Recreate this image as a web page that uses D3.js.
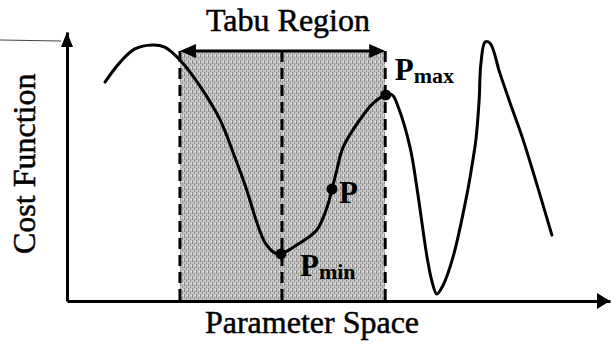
<!DOCTYPE html>
<html>
<head>
<meta charset="utf-8">
<script src="https://cdn.jsdelivr.net/npm/d3@7"></script>
<style>
  html, body { margin: 0; padding: 0; background: #fff; }
  text { font-family: "Liberation Serif", "Times New Roman", serif; fill: #000; }
</style>
</head>
<body>
<div id="chart"></div>
<script>
// cost function curve (x = parameter, y = cost, both 0..100)
const paramX = [7.0, 9.8, 12.5, 15.7, 18.0, 20.8, 24.5, 28.2, 30.9, 33.1, 35.0, 36.5, 38.3, 39.4,
  42.9, 46.0, 47.9, 48.8, 49.7, 50.8, 53.9, 56.4, 58.7, 59.9, 61.0, 63.2, 64.5, 66.3, 67.2, 68.1,
  69.2, 71.1, 73.7, 74.6, 75.3, 75.9, 76.2, 77.0, 77.9, 79.7, 81.6, 84.0, 89.3];
const costY = [81.4, 88.8, 93.7, 95.2, 94.4, 89.6, 79.9, 67.3, 53.5, 41.3, 29.0, 21.6, 17.8, 17.5,
  21.6, 26.4, 34.9, 41.6, 48.7, 56.9, 67.3, 73.6, 76.6, 76.6, 72.1, 56.9, 41.3, 16.4, 7.4, 2.6,
  5.6, 16.4, 40.1, 50.6, 59.9, 74.7, 87.7, 96.3, 95.9, 84.8, 73.6, 59.9, 24.5];

// tabu region and marked points
const tabuStart = 20.8, tabuCenter = 39.6, tabuEnd = 58.6, tabuTop = 92.9;
const markedNames = ["min", "", "max"];
const markedIdx = [13, 17, 22];

const width = 611, height = 347;
const svg = d3.select("#chart").append("svg")
  .attr("width", width).attr("height", height);

const x = d3.scaleLinear().domain([0, 100]).range([67, 610]);
const y = d3.scaleLinear().domain([0, 100]).range([301, 32]);

// texture for the shaded region
const defs = svg.append("defs");
const pat = defs.append("pattern").attr("id", "grain")
  .attr("patternUnits", "userSpaceOnUse").attr("width", 4).attr("height", 6);
pat.append("rect").attr("width", 4).attr("height", 6).attr("fill", "#c4c4c4");
pat.append("rect").attr("x", 0).attr("y", 0).attr("width", 1).attr("height", 4).attr("fill", "#8a8a8a");
pat.append("rect").attr("x", 2).attr("y", 3).attr("width", 1).attr("height", 3).attr("fill", "#9a9a9a");
pat.append("rect").attr("x", 3).attr("y", 1).attr("width", 1).attr("height", 1).attr("fill", "#eee");

svg.append("rect")
  .attr("x", x(tabuStart)).attr("y", y(tabuTop))
  .attr("width", x(tabuEnd) - x(tabuStart)).attr("height", y(0) - y(tabuTop))
  .attr("fill", "url(#grain)");

// dashed boundaries
svg.selectAll("line.bound")
  .data([tabuStart, tabuCenter, tabuEnd])
  .join("line")
  .attr("class", "bound")
  .attr("x1", d => x(d)).attr("x2", d => x(d))
  .attr("y1", y(tabuTop)).attr("y2", y(0))
  .attr("stroke", "#000").attr("stroke-width", 3)
  .attr("stroke-dasharray", "11 6");

// double arrow on top
const ty = y(tabuTop);
svg.append("line")
  .attr("x1", x(tabuStart) + 8).attr("x2", x(tabuEnd) - 8)
  .attr("y1", ty).attr("y2", ty)
  .attr("stroke", "#000").attr("stroke-width", 3);
svg.append("path")
  .attr("d", `M${x(tabuStart)},${ty} l16,-7 v14 Z M${x(tabuEnd)},${ty} l-16,-7 v14 Z`)
  .attr("fill", "#000");

svg.append("text")
  .attr("x", x(tabuCenter) + 6).attr("y", 31)
  .attr("text-anchor", "middle")
  .attr("font-size", 32)
  .attr("stroke", "#000").attr("stroke-width", 0.5)
  .text("Tabu Region");

// axes
svg.append("g").attr("transform", `translate(0,${y(0)})`)
  .call(d3.axisBottom(x).ticks(0).tickSizeOuter(0));
svg.append("g").attr("transform", `translate(${x(0)},0)`)
  .call(d3.axisLeft(y).ticks(0).tickSizeOuter(0));
svg.selectAll(".domain").attr("stroke", "#000").attr("stroke-width", 3);

svg.append("path")
  .attr("d", `M${x(100)},${y(0)} l-13,-8 v16 Z`)
  .attr("fill", "#000");
svg.append("path")
  .attr("d", `M${x(0)},${y(100)} l-6,15 h12 Z`)
  .attr("fill", "#000");

// scanning stray line at the top left
svg.append("line")
  .attr("x1", 0).attr("x2", x(0) - 6).attr("y1", 40).attr("y2", 41)
  .attr("stroke", "#444").attr("stroke-width", 1);

svg.append("text")
  .attr("x", 312).attr("y", 333)
  .attr("text-anchor", "middle")
  .attr("font-size", 32)
  .attr("stroke", "#000").attr("stroke-width", 0.5)
  .text("Parameter Space");

svg.append("text")
  .attr("transform", `translate(35,${y(51)}) rotate(-90)`)
  .attr("text-anchor", "middle")
  .attr("font-size", 32)
  .attr("stroke", "#000").attr("stroke-width", 0.5)
  .text("Cost Function");

// curve
const pts = paramX.map((d, i) => ({x: d, y: costY[i]}));
const line = d3.line()
  .x(d => x(d.x))
  .y(d => y(d.y))
  .curve(d3.curveCatmullRom.alpha(0.5));

svg.append("path")
  .datum(pts)
  .attr("d", line)
  .attr("fill", "none")
  .attr("stroke", "#000")
  .attr("stroke-width", 3)
  .attr("stroke-linecap", "round");

// marked points
const marks = markedIdx.map((k, i) => ({x: paramX[k], y: costY[k], sub: markedNames[i]}));
svg.selectAll("circle.mark")
  .data(marks)
  .join("circle")
  .attr("class", "mark")
  .attr("cx", d => x(d.x)).attr("cy", d => y(d.y))
  .attr("r", 5.5).attr("fill", "#000");

const labelOffset = [[19, 22], [7, 14], [9, -15]];
const lab = svg.selectAll("text.mark")
  .data(marks)
  .join("text")
  .attr("class", "mark")
  .attr("x", (d, i) => x(d.x) + labelOffset[i][0])
  .attr("y", (d, i) => y(d.y) + labelOffset[i][1])
  .attr("font-size", 31)
  .attr("font-weight", "bold");
lab.append("tspan").text("P");
lab.append("tspan")
  .attr("font-size", 22)
  .attr("dy", 3)
  .text(d => d.sub);
</script>
</body>
</html>
